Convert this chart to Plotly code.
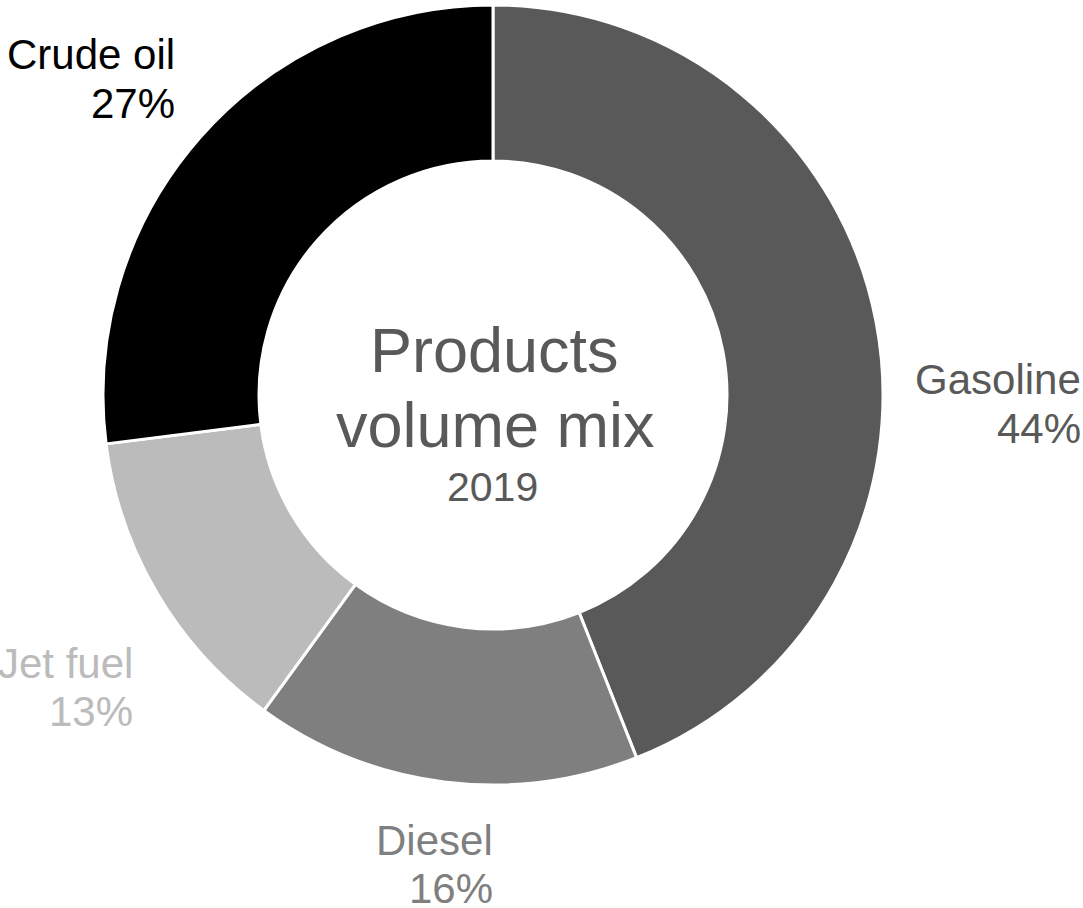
import plotly.graph_objects as go

W, H = 1083, 908

categories = ["Gasoline", "Diesel", "Jet fuel", "Crude oil"]
values = [44, 16, 13, 27]
colors = ["#595959", "#7f7f7f", "#bbbbbb", "#000000"]

# label anchor points (right edge x, middle y of first line) in pixels
label_pos = {
    "Gasoline": (1083, 380),
    "Diesel": (495, 840),
    "Jet fuel": (135, 663),
    "Crude oil": (177, 55),
}
LINE_GAP = 48
LABEL_SIZE = 42

FONT = "Liberation Sans, Arial, sans-serif"

cx, cy, R = 493, 395, 390


def px(x):
    return x / W


def py(y):
    return 1 - y / H


fig = go.Figure(
    go.Pie(
        labels=categories,
        values=values,
        hole=0.6,
        sort=False,
        direction="clockwise",
        rotation=0,
        marker=dict(colors=colors, line=dict(color="white", width=3)),
        textinfo="none",
        hoverinfo="label+percent",
        domain=dict(x=[px(cx - R), px(cx + R)], y=[py(cy + R), py(cy - R)]),
        showlegend=False,
    )
)

ann = []
for cat, val, col in zip(categories, values, colors):
    x, y = label_pos[cat]
    ann.append(dict(x=px(x), y=py(y), xref="paper", yref="paper", text=cat,
                    xanchor="right", yanchor="middle", showarrow=False,
                    font=dict(family=FONT, size=LABEL_SIZE, color=col)))
    ann.append(dict(x=px(x), y=py(y + LINE_GAP), xref="paper", yref="paper",
                    text=f"{val}%", xanchor="right", yanchor="middle",
                    showarrow=False,
                    font=dict(family=FONT, size=LABEL_SIZE, color=col)))

center_col = "#595959"
ann.append(dict(x=px(494), y=py(350), xref="paper", yref="paper", text="Products",
                xanchor="center", yanchor="middle", showarrow=False,
                font=dict(family=FONT, size=63, color=center_col)))
ann.append(dict(x=px(495), y=py(425), xref="paper", yref="paper", text="volume mix",
                xanchor="center", yanchor="middle", showarrow=False,
                font=dict(family=FONT, size=63, color=center_col)))
ann.append(dict(x=px(492), y=py(487), xref="paper", yref="paper", text="2019",
                xanchor="center", yanchor="middle", showarrow=False,
                font=dict(family=FONT, size=41, color=center_col)))

fig.update_layout(
    width=W, height=H,
    margin=dict(l=0, r=0, t=0, b=0),
    paper_bgcolor="white",
    plot_bgcolor="white",
    annotations=ann,
)

fig.write_html("out.html")
